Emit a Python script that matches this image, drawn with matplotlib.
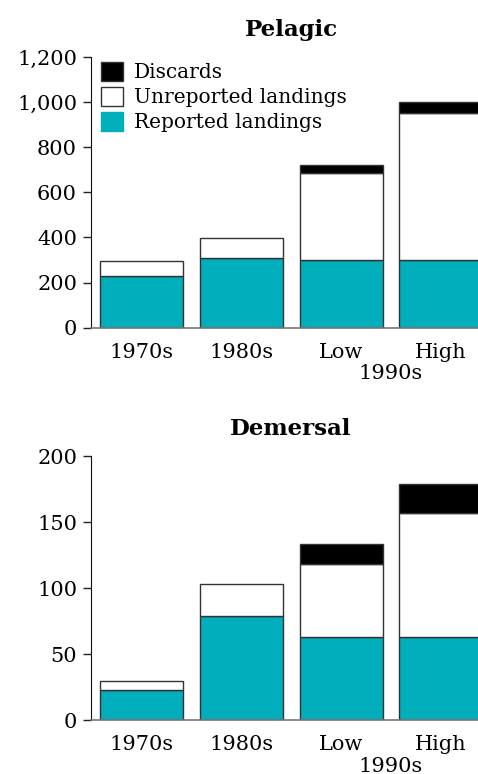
import numpy as np
import matplotlib
matplotlib.use("Agg")
import matplotlib.pyplot as plt
from matplotlib.patches import Patch

# ── Données ──────────────────────────────────────────────────────────────────
categories = ["1970s", "1980s", "Low", "High"]

pel_reported   = [228, 307, 300, 300]
pel_unreported = [68, 89, 384, 652]
pel_discards   = [0, 0, 37, 50]

dem_reported   = [22.5, 79, 63, 63]
dem_unreported = [7, 24, 55, 94]
dem_discards   = [0, 0, 15.6, 22]

pel_ticks = [0, 200, 400, 600, 800, 1000, 1200]
dem_ticks = [0, 50, 100, 150, 200]

TEAL = "#00afbb"
EDGE = "#333333"
FONT = ["DejaVu Serif"]

plt.rcParams["font.family"] = FONT
plt.rcParams["font.size"] = 15

W, H = 478, 774
fig = plt.figure(figsize=(W / 100, H / 100), dpi=100)


def panel(rect, title, rep, unrep, disc, ticks, fmt, legend=False):
    ax = fig.add_axes(rect)
    x = np.arange(len(categories))
    rep, unrep, disc = map(np.asarray, (rep, unrep, disc))
    kw = dict(width=0.83, edgecolor=EDGE, linewidth=1.0)
    ax.bar(x, rep, color=TEAL, **kw)
    ax.bar(x, unrep, bottom=rep, color="white", **kw)
    m = disc > 0
    ax.bar(x[m], disc[m], bottom=(rep + unrep)[m], color="black", **kw)

    ax.set_xlim(-0.5, 3.5)
    ax.set_ylim(0, ticks[-1])
    ax.set_yticks(ticks)
    ax.set_yticklabels([fmt(t) for t in ticks])
    ax.set_xticks(x)
    ax.set_xticklabels(categories)
    ax.tick_params(axis="x", length=0, pad=11)
    ax.tick_params(axis="y", length=6, width=1, color="#222222", pad=4)
    for s in ("top", "right"):
        ax.spines[s].set_visible(False)
    ax.spines["left"].set_color("#111111")
    ax.spines["bottom"].set_color("#777777")
    ax.spines["bottom"].set_linewidth(1.2)
    ax.set_title(title, fontweight="bold", fontsize=16.5, pad=15)
    ax.annotate("1990s", xy=(2.5, 0), xycoords=("data", "axes fraction"),
                xytext=(0, -46), textcoords="offset pixels",
                ha="center", va="center")
    if legend:
        handles = [Patch(facecolor="black", edgecolor=EDGE),
                   Patch(facecolor="white", edgecolor=EDGE),
                   Patch(facecolor=TEAL, edgecolor=TEAL)]
        ax.legend(handles, ["Discards", "Unreported landings", "Reported landings"],
                  loc="upper left", bbox_to_anchor=(-0.01, 1.035), frameon=False,
                  handlelength=1.1, handleheight=1.1, handletextpad=0.55,
                  labelspacing=0.22, borderpad=0.2, fontsize=14.5)
    return ax


left = 91 / W
width = 400 / W
panel([left, 1 - 327.7 / H, width, (327.7 - 57) / H], "Pelagic",
      pel_reported, pel_unreported, pel_discards, pel_ticks,
      lambda t: f"{t:,}", legend=True)
panel([left, 1 - 720 / H, width, (720 - 456) / H], "Demersal",
      dem_reported, dem_unreported, dem_discards, dem_ticks,
      lambda t: f"{t}")

fig.savefig("out.png", dpi=100)
